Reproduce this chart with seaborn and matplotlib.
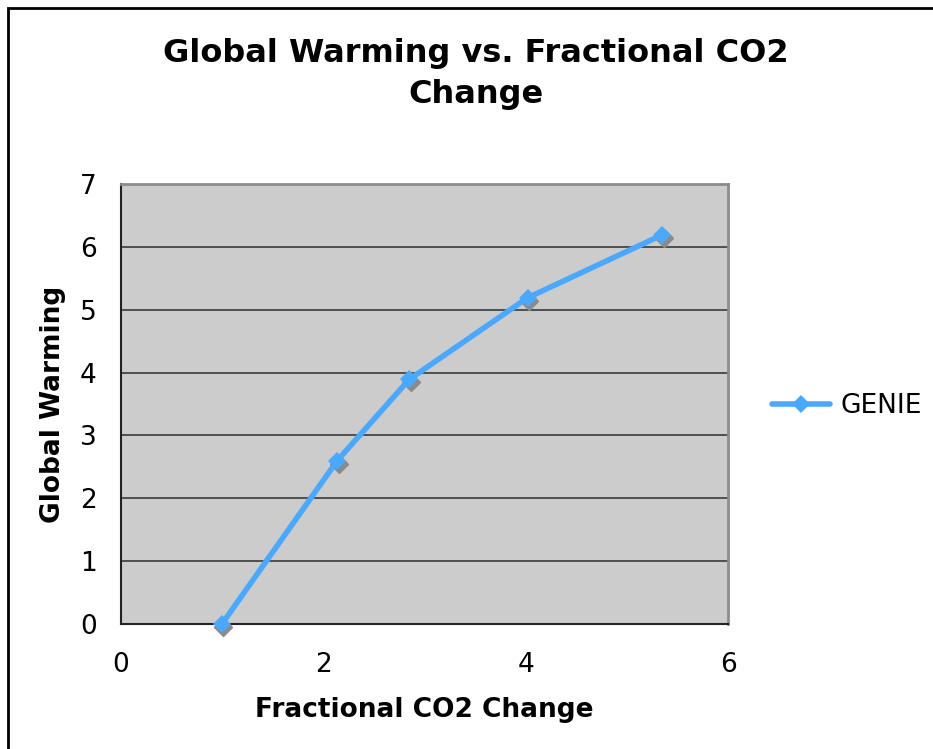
import matplotlib
matplotlib.use("Agg")
import matplotlib.pyplot as plt
import matplotlib.transforms as mtransforms
from matplotlib.patches import Rectangle
from matplotlib.lines import Line2D
import seaborn as sns
import pandas as pd

# GENIE model runs
co2_fraction = [1.0, 2.14, 2.85, 4.02, 5.35]
warming = [0.0, 2.60, 3.89, 5.19, 6.19]
series_name = "GENIE"

x_ticks = [0, 2, 4, 6]
y_ticks = [0, 1, 2, 3, 4, 5, 6, 7]

df = pd.DataFrame({"co2": co2_fraction, "warming": warming})

sns.set_style("white")
plt.rcParams["font.family"] = ["DejaVu Sans"]
plt.rcParams["text.color"] = "black"
plt.rcParams["axes.labelcolor"] = "black"
plt.rcParams["xtick.color"] = "black"
plt.rcParams["ytick.color"] = "black"

W, H = 933, 749
fig = plt.figure(figsize=(W / 100, H / 100), dpi=100)
ax = fig.add_axes([120.7 / W, 1 - 624 / H, (728 - 120.7) / W, (624 - 184) / H])
ax.set_facecolor("#cccccc")

line_color = "#4aa8ff"

# drop shadow under the markers
shadow = mtransforms.offset_copy(ax.transData, fig=fig, x=1.5, y=-3, units="dots")
ax.plot(co2_fraction, warming, linestyle="none", marker="D", markersize=9,
        color="#8a8a8a", transform=shadow, zorder=3, clip_on=False)

sns.lineplot(data=df, x="co2", y="warming", ax=ax, color=line_color,
             linewidth=4, marker="D", markersize=9, markeredgewidth=0,
             zorder=4, legend=False, clip_on=False)

ax.set_xlim(0, 6)
ax.set_ylim(0, 7)
ax.set_xticks(x_ticks)
ax.set_yticks(y_ticks)
ax.yaxis.grid(True, color="#3a3a3a", linewidth=1.2)
ax.xaxis.grid(False)
ax.set_axisbelow(True)

for side in ("top", "right"):
    ax.spines[side].set_color("#8c8c8c")
    ax.spines[side].set_linewidth(2)
for side in ("left", "bottom"):
    ax.spines[side].set_color("#222222")
    ax.spines[side].set_linewidth(1.5)

ax.tick_params(axis="both", which="major", direction="out", length=5.8,
               width=1, color="#333333", labelsize=19, labelcolor="black")
ax.tick_params(axis="x", pad=14)
ax.tick_params(axis="y", pad=11.5)

ax.set_xlabel("Fractional CO2 Change", fontsize=19, fontweight="bold", labelpad=14)
ax.set_ylabel("Global Warming", fontsize=19, fontweight="bold", labelpad=10)

fig.text(476 / W, 1 - 74 / H,
         "Global Warming vs. Fractional CO2\nChange", ha="center", va="center",
         fontsize=23, fontweight="bold", linespacing=1.45)

handle = Line2D([], [], color=line_color, linewidth=4, marker="D",
                markersize=9, markeredgewidth=0)
fig.legend([handle], [series_name], loc="center left",
           bbox_to_anchor=(772 / W, 1 - 406 / H), frameon=False,
           fontsize=19, handlelength=2.2, handletextpad=0.4,
           borderpad=0, borderaxespad=0)

# outer chart frame
fig.patches.append(Rectangle((8 / W, -0.05), 1.2, 1 - 8 / H + 0.05,
                             transform=fig.transFigure, fill=False,
                             edgecolor="black", linewidth=2))

fig.savefig("out.png", dpi=100)
